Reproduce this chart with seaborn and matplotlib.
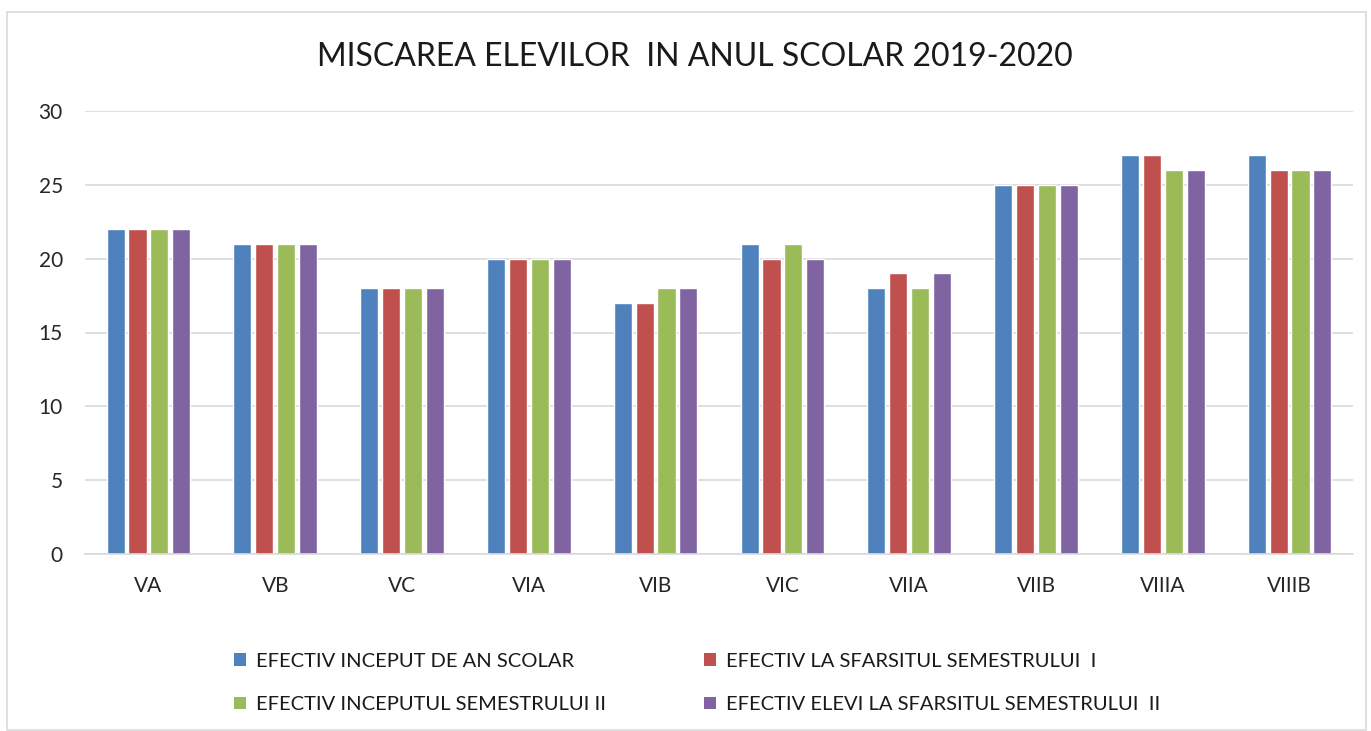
import matplotlib
matplotlib.use("Agg")
import matplotlib.pyplot as plt
import seaborn as sns
import pandas as pd
from matplotlib.patches import Rectangle, Patch

classes = ["VA", "VB", "VC", "VIA", "VIB", "VIC", "VIIA", "VIIB", "VIIIA", "VIIIB"]
series_names = [
    "EFECTIV INCEPUT DE AN SCOLAR",
    "EFECTIV LA SFARSITUL SEMESTRULUI  I",
    "EFECTIV INCEPUTUL SEMESTRULUI II",
    "EFECTIV ELEVI LA SFARSITUL SEMESTRULUI  II",
]
inceput_an = [22, 21, 18, 20, 17, 21, 18, 25, 27, 27]
sfarsit_sem1 = [22, 21, 18, 20, 17, 20, 19, 25, 27, 26]
inceput_sem2 = [22, 21, 18, 20, 18, 21, 18, 25, 26, 26]
sfarsit_sem2 = [22, 21, 18, 20, 18, 20, 19, 25, 26, 26]
colors = ["#4F81BD", "#C0504D", "#9BBB59", "#8064A2"]
title = "MISCAREA ELEVILOR  IN ANUL SCOLAR 2019-2020"
yticks = [0, 5, 10, 15, 20, 25, 30]

rows = []
for name, vals in zip(series_names, [inceput_an, sfarsit_sem1, inceput_sem2, sfarsit_sem2]):
    for c, v in zip(classes, vals):
        rows.append({"clasa": c, "serie": name, "valoare": v})
df = pd.DataFrame(rows)

sns.set_theme(style="white")
plt.rcParams["font.family"] = ["Lato", "DejaVu Sans"]

W, H = 1371, 731
fig = plt.figure(figsize=(W / 100, H / 100), dpi=100)
ax = fig.add_axes([85 / W, 1 - 554 / H, (1353 - 85) / W, (554 - 111) / H])

sns.barplot(data=df, x="clasa", y="valoare", hue="serie", order=classes,
            hue_order=series_names, palette=colors, width=0.69, gap=0.17,
            saturation=1, ax=ax, legend=False, errorbar=None)

ax.set_ylim(0, 30)
ax.set_xlim(-0.5, len(classes) - 0.5)
ax.set_yticks(yticks)
ax.set_yticklabels([str(t) for t in yticks])
ax.yaxis.grid(True, color="#D9D9D9", linewidth=1.2)
ax.set_axisbelow(True)
for s in ["top", "right", "left"]:
    ax.spines[s].set_visible(False)
ax.spines["bottom"].set_color("#D9D9D9")
ax.spines["bottom"].set_linewidth(1.2)
ax.tick_params(axis="both", length=0, labelsize=15, colors="#262626")
ax.tick_params(axis="y", pad=16)
ax.tick_params(axis="x", pad=16)
ax.set_xlabel("")
ax.set_ylabel("")

fig.text(695 / W, 1 - 57 / H, title, ha="center", va="center", fontsize=23, color="#1a1a1a")

handles = [Patch(facecolor=c, edgecolor="none") for c in colors]
order = [0, 2, 1, 3]
fig.legend([handles[i] for i in order], [series_names[i] for i in order],
           loc="center left", bbox_to_anchor=(234 / W, 1 - 683 / H), ncol=2,
           frameon=False, fontsize=14.5, handlelength=0.6, handleheight=0.6,
           handletextpad=0.5, columnspacing=4.85, labelspacing=1.3,
           borderpad=0, borderaxespad=0, labelcolor="#1a1a1a")

fig.patches.append(Rectangle((7 / W, 0.002), (1366 - 7) / W, 1 - 12 / H - 0.002,
                             transform=fig.transFigure, fill=False,
                             edgecolor="#D9D9D9", linewidth=1.2))

fig.savefig("out.png", dpi=100, facecolor="white")
